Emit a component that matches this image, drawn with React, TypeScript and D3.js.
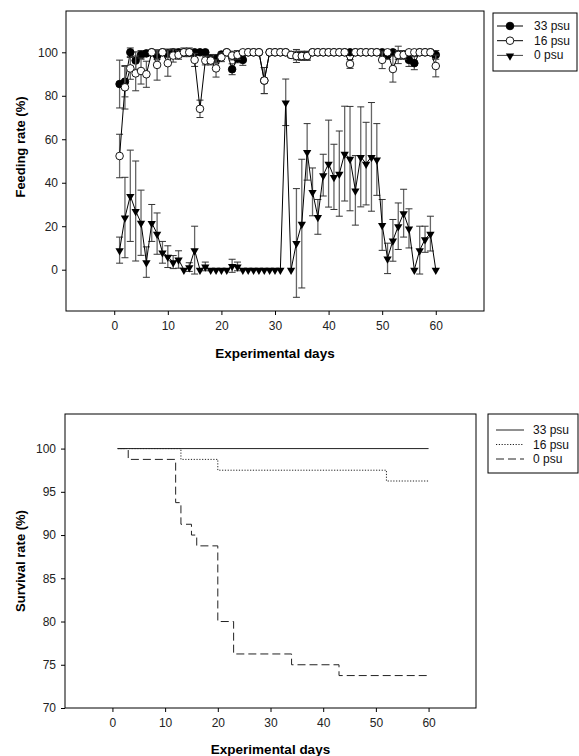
import { useEffect, useRef } from 'react';
import * as d3 from 'd3';

// Experimental days (x categories)
const days = [
  1, 2, 3, 4, 5, 6, 7, 8, 9, 10, 11, 12, 13, 14, 15, 16, 17, 18, 19, 20,
  21, 22, 23, 24, 25, 26, 27, 28, 29, 30, 31, 32, 33, 34, 35, 36, 37, 38, 39, 40,
  41, 42, 43, 44, 45, 46, 47, 48, 49, 50, 51, 52, 53, 54, 55, 56, 57, 58, 59, 60,
];

// Feeding rate (%) – 33 psu
const feed33 = [
  85.4, 86.5, 100, 96.2, 98.8, 99.5, 100, 98.8, 100, 99.5, 100, 100, 100, 100, 100, 100, 100, 97, 97, 99,
  100, 92.2, 97.2, 96.5, 100, 100, 100, 87, 100, 100, 100, 100, 98.8, 98.5, 98.5, 98.5, 100, 100, 100, 100,
  100, 100, 100, 100, 100, 100, 100, 100, 100, 100, 98.8, 100, 98.8, 98.8, 96.5, 95, 100, 100, 100, 98.8,
];
const feed33Err = [
  11, 7, 2, 4, 2, 1, 0, 2, 0, 2, 1, 0, 2, 2, 0, 0, 0, 2, 2, 1,
  0, 2.5, 2, 2.5, 0, 0, 0, 6, 0, 0, 0, 0, 1, 2, 2, 2, 0, 0, 0, 0,
  0, 0, 0, 0, 0, 0, 0, 0, 0, 0, 2, 0, 4, 1, 3, 3, 0, 0, 0, 2,
];

// Feeding rate (%) – 16 psu
const feed16 = [
  52.3, 83.9, 92.6, 90.3, 91.4, 89.9, 100, 94.2, 100, 95, 98.5, 98.8, 100, 100, 96.5, 74, 96.2, 96.2, 92.6, 97.7,
  100, 98.5, 98.8, 100, 100, 100, 100, 87, 100, 100, 100, 100, 98.8, 98.3, 98.3, 98.3, 100, 100, 100, 100,
  100, 100, 100, 94.6, 100, 100, 100, 100, 100, 96.5, 100, 92.3, 98.8, 98.8, 100, 100, 100, 100, 100, 93.7,
];
const feed16Err = [
  10, 10, 5, 8, 6, 6, 0, 7, 0, 6, 3, 2, 0, 0, 3, 4, 2, 2, 4, 2,
  0, 2, 2, 0, 0, 0, 0, 6, 0, 0, 0, 0, 1, 3, 2, 2, 0, 0, 0, 0,
  0, 0, 0, 2, 0, 0, 0, 0, 0, 4, 0, 6, 2, 2, 0, 0, 0, 0, 0, 5,
];

// Feeding rate (%) – 0 psu
const feed0 = [
  9, 24, 34, 27, 21.6, 3.5, 21.5, 16.6, 8, 6, 3.5, 4.7, 0, 1.2, 9, 0, 1.5, 0, 0, 0,
  0, 1.8, 1.5, 0, 0, 0, 0, 0, 0, 0, 0, 77, 0, 12.3, 21.2, 54.2, 35.8, 24.3, 43.5, 48.8,
  42.7, 44.2, 53.4, 51.1, 36.5, 51.9, 48.8, 51.9, 50.7, 20.6, 5.2, 13.5, 20, 26, 19, 0, 9, 14, 16.6, 0,
];
const feed0Err = [
  6, 18.5, 21, 23, 15, 7, 8.5, 9.5, 5, 5, 3, 4, 0, 2, 11, 0, 2, 0, 0, 0,
  0, 3, 2, 0, 0, 0, 0, 0, 0, 0, 0, 10.7, 0, 25, 29.6, 13, 11, 8, 9.6, 20,
  15, 19.6, 21.8, 24, 16, 23, 19, 25, 16.5, 11.7, 7, 9.6, 10.7, 11, 9, 0, 11, 6, 8, 0,
];

// Survival rate (%) – step changes
const survDays33 = [1, 60];
const surv33 = [100, 100];
const survDays16 = [1, 13, 20, 52, 60];
const surv16 = [100, 98.75, 97.5, 96.25, 96.25];
const survDays0 = [1, 3, 12, 13, 15, 16, 20, 23, 34, 43, 60];
const surv0 = [100, 98.75, 93.75, 91.25, 90, 88.75, 80, 76.25, 75, 73.75, 73.75];

const seriesNames = ['33 psu', '16 psu', '0 psu'];
const dayTicks = [0, 10, 20, 30, 40, 50, 60];
const feedTicks = [0, 20, 40, 60, 80, 100];
const survTicks = [70, 75, 80, 85, 90, 95, 100];

const FONT = '"Liberation Sans", Arial, sans-serif';

function App() {
  const svgRef = useRef<SVGSVGElement>(null);

  useEffect(() => {
    const svg = d3.select(svgRef.current);
    svg.selectAll('*').remove();
    svg.attr('font-family', FONT);

    const styleAxis = (g: any) => {
      g.select('.domain').remove();
      g.selectAll('.tick line').attr('stroke', '#000');
      g.selectAll('.tick text').attr('fill', '#222').attr('font-size', '12px').attr('font-family', FONT);
    };

    // ---------- Feeding rate chart ----------
    const x = d3.scaleLinear().domain([-9, 69]).range([66, 484]);
    const y = d3.scaleLinear().domain([-19, 119]).range([311, 11]);

    svg.append('g')
      .attr('transform', 'translate(66,0)')
      .call(d3.axisLeft(y).tickValues(feedTicks).tickSize(4).tickPadding(4))
      .call(styleAxis);
    svg.append('g')
      .attr('transform', 'translate(0,311)')
      .call(d3.axisBottom(x).tickValues(dayTicks).tickSize(4).tickPadding(6))
      .call(styleAxis);

    const feedSeries = [
      { vals: feed33, errs: feed33Err, kind: 'filled' },
      { vals: feed16, errs: feed16Err, kind: 'open' },
      { vals: feed0, errs: feed0Err, kind: 'tri' },
    ];

    const line = d3.line<number>()
      .x((d, i) => x(days[i]))
      .y(d => y(d));

    const triangle = d3.symbol().type(d3.symbolTriangle).size(30)();

    feedSeries.forEach(s => {
      const g = svg.append('g');
      // error bars
      days.forEach((day, i) => {
        const e = s.errs[i];
        if (!e) return;
        const cx = x(day);
        const y1 = y(s.vals[i] - e);
        const y2 = y(s.vals[i] + e);
        g.append('line').attr('x1', cx).attr('x2', cx).attr('y1', y1).attr('y2', y2)
          .attr('stroke', '#666').attr('stroke-width', 1.3);
        [y1, y2].forEach(yy => {
          g.append('line').attr('x1', cx - 3.5).attr('x2', cx + 3.5).attr('y1', yy).attr('y2', yy)
            .attr('stroke', '#333').attr('stroke-width', 1);
        });
      });
      g.append('path').datum(s.vals).attr('d', line)
        .attr('fill', 'none').attr('stroke', '#000').attr('stroke-width', 1);
      days.forEach((day, i) => {
        if (s.kind === 'tri') {
          g.append('path').attr('d', triangle)
            .attr('transform', `translate(${x(day)},${y(s.vals[i]) + 0.5}) rotate(180)`)
            .attr('fill', '#000');
        } else {
          g.append('circle').attr('cx', x(day)).attr('cy', y(s.vals[i])).attr('r', 3.8)
            .attr('fill', s.kind === 'filled' ? '#000' : '#fff')
            .attr('stroke', '#000').attr('stroke-width', 0.9);
        }
      });
    });

    svg.append('rect').attr('x', 66).attr('y', 11).attr('width', 418).attr('height', 300)
      .attr('fill', 'none').attr('stroke', '#000');

    svg.append('text')
      .attr('transform', 'translate(25,147) rotate(-90)')
      .attr('text-anchor', 'middle').attr('font-weight', 'bold').attr('font-size', '13px')
      .text('Feeding rate (%)');
    svg.append('text')
      .attr('x', x(30)).attr('y', 358)
      .attr('text-anchor', 'middle').attr('font-weight', 'bold').attr('font-size', '13.5px')
      .text('Experimental days');

    // feeding legend
    const leg1 = svg.append('g');
    leg1.append('rect').attr('x', 493).attr('y', 13).attr('width', 84).attr('height', 58)
      .attr('fill', '#fff').attr('stroke', '#000');
    seriesNames.forEach((name, i) => {
      const ly = 26 + i * 14.7;
      leg1.append('line').attr('x1', 497).attr('x2', 523).attr('y1', ly).attr('y2', ly)
        .attr('stroke', i === 2 ? '#444' : '#000');
      if (i === 2) {
        leg1.append('path').attr('d', triangle)
          .attr('transform', `translate(510,${ly + 0.5}) rotate(180)`).attr('fill', '#000');
      } else {
        leg1.append('circle').attr('cx', 510).attr('cy', ly).attr('r', 3.8)
          .attr('fill', i === 0 ? '#000' : '#fff').attr('stroke', '#000').attr('stroke-width', 0.9);
      }
      leg1.append('text').attr('x', 534).attr('y', ly + 4).attr('font-size', '12px')
        .attr('fill', '#111').text(name);
    });

    // ---------- Survival chart ----------
    const x2 = d3.scaleLinear().domain([-9, 69]).range([65, 476]);
    const y2 = d3.scaleLinear().domain([70, 104]).range([708, 414]);

    svg.append('g')
      .attr('transform', 'translate(65,0)')
      .call(d3.axisLeft(y2).tickValues(survTicks).tickSize(4).tickPadding(5))
      .call(styleAxis);
    svg.append('g')
      .attr('transform', 'translate(0,708)')
      .call(d3.axisBottom(x2).tickValues(dayTicks).tickSize(4).tickPadding(6))
      .call(styleAxis);

    const dashes = ['none', '1.2,1.6', '8,4'];
    const survSeries = [
      { d: survDays33, v: surv33 },
      { d: survDays16, v: surv16 },
      { d: survDays0, v: surv0 },
    ];
    survSeries.forEach((s, k) => {
      const step = d3.line<number>()
        .x((d, i) => x2(s.d[i]))
        .y(d => y2(d))
        .curve(d3.curveStepAfter);
      svg.append('path').datum(s.v).attr('d', step)
        .attr('fill', 'none').attr('stroke', '#222').attr('stroke-width', 1)
        .attr('stroke-dasharray', dashes[k]);
    });

    svg.append('rect').attr('x', 65).attr('y', 414).attr('width', 411).attr('height', 294)
      .attr('fill', 'none').attr('stroke', '#000');

    svg.append('text')
      .attr('transform', 'translate(25,561) rotate(-90)')
      .attr('text-anchor', 'middle').attr('font-weight', 'bold').attr('font-size', '13px')
      .text('Survival rate (%)');
    svg.append('text')
      .attr('x', x2(30)).attr('y', 754)
      .attr('text-anchor', 'middle').attr('font-weight', 'bold').attr('font-size', '13.5px')
      .text('Experimental days');

    const leg2 = svg.append('g');
    leg2.append('rect').attr('x', 488).attr('y', 414).attr('width', 90).attr('height', 59)
      .attr('fill', '#fff').attr('stroke', '#000');
    seriesNames.forEach((name, i) => {
      const ly = 430 + i * 14.5;
      leg2.append('line').attr('x1', 496).attr('x2', 524).attr('y1', ly).attr('y2', ly)
        .attr('stroke', '#222').attr('stroke-dasharray', dashes[i]);
      leg2.append('text').attr('x', 533).attr('y', ly + 4).attr('font-size', '12px')
        .attr('fill', '#111').text(name);
    });
  }, []);

  return (
    <svg
      ref={svgRef}
      width={579}
      height={756}
      style={{ position: 'absolute', left: 0, top: 0, background: '#fff' }}
    />
  );
}

export default App;
